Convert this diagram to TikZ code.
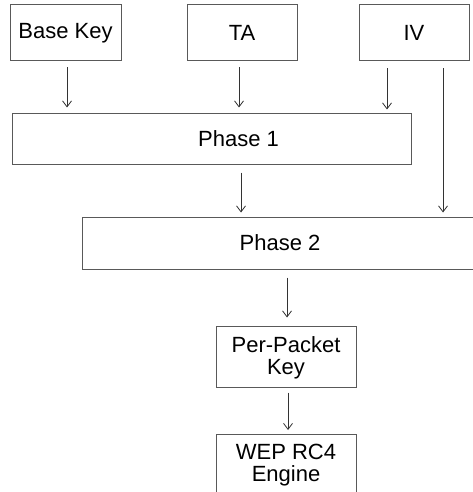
\documentclass[tikz,border=0pt]{standalone}
\usepackage{fontspec}
\setmainfont{Liberation Sans}
\usetikzlibrary{arrows.meta}
\begin{document}
\begin{tikzpicture}[x=1pt, y=-1pt,
  txt/.style={align=center, font=\fontsize{22}{21.5}\selectfont},
  box/.style={txt, draw=black!65, line width=1pt, fill=white, inner sep=0pt},
  arr/.style={draw=black!80, line width=0.8pt,
    -{Straight Barb[length=6pt, width=9pt]}}]
\useasboundingbox (0,0) rectangle (473,492);
\fill[white] (0,0) rectangle (473,492);

% inputs
\node[box, minimum width=111pt, minimum height=56pt] (bk) at (65.5,33) {Base Key};
\node[box, minimum width=110pt, minimum height=56pt] (ta) at (242,33) {TA};
\node[box, minimum width=110pt, minimum height=56pt] (iv) at (414,33) {IV};

% key mixing phases
\node[box, minimum width=399pt, minimum height=50pt,
  label={[txt, xshift=27pt]center:Phase 1}] (p1) at (211.5,139) {};
\node[box, minimum width=396pt, minimum height=52pt] (p2) at (280,243) {Phase 2};

% outputs
\node[box, minimum width=140pt, minimum height=61pt,
  label={[txt, yshift=-1.5pt]center:Per-Packet\\Key}] (ppk) at (286,356.5) {};
\node[box, minimum width=140pt, minimum height=66pt, anchor=north,
  label={[txt, yshift=2.5pt]center:WEP RC4\\Engine}] (wep) at (286,434) {};

% connectors
\draw[arr, shorten <=6pt, shorten >=6pt] ([xshift=1.5pt]bk.south) -- ([xshift=1.5pt]bk.south |- p1.north);
\draw[arr, shorten <=6pt, shorten >=6pt] ([xshift=-3pt]ta.south) -- ([xshift=-3pt]ta.south |- p1.north);
\draw[arr, shorten <=7pt, shorten >=4pt] ([xshift=-27pt]iv.south) -- ([xshift=-27pt]iv.south |- p1.north);
\draw[arr, shorten <=7pt, shorten >=4pt] ([xshift=29pt]iv.south) -- ([xshift=29pt]iv.south |- p2.north);
\draw[arr, shorten <=8pt, shorten >=4pt] ([xshift=29.5pt]p1.south) -- ([xshift=29.5pt]p1.south |- p2.north);
\draw[arr, shorten <=8pt, shorten >=8pt] ([xshift=7pt]p2.south) -- ([xshift=7pt]p2.south |- ppk.north);
\draw[arr, shorten <=5pt, shorten >=4pt] ([xshift=2pt]ppk.south) -- ([xshift=2pt]ppk.south |- wep.north);
\end{tikzpicture}
\end{document}
